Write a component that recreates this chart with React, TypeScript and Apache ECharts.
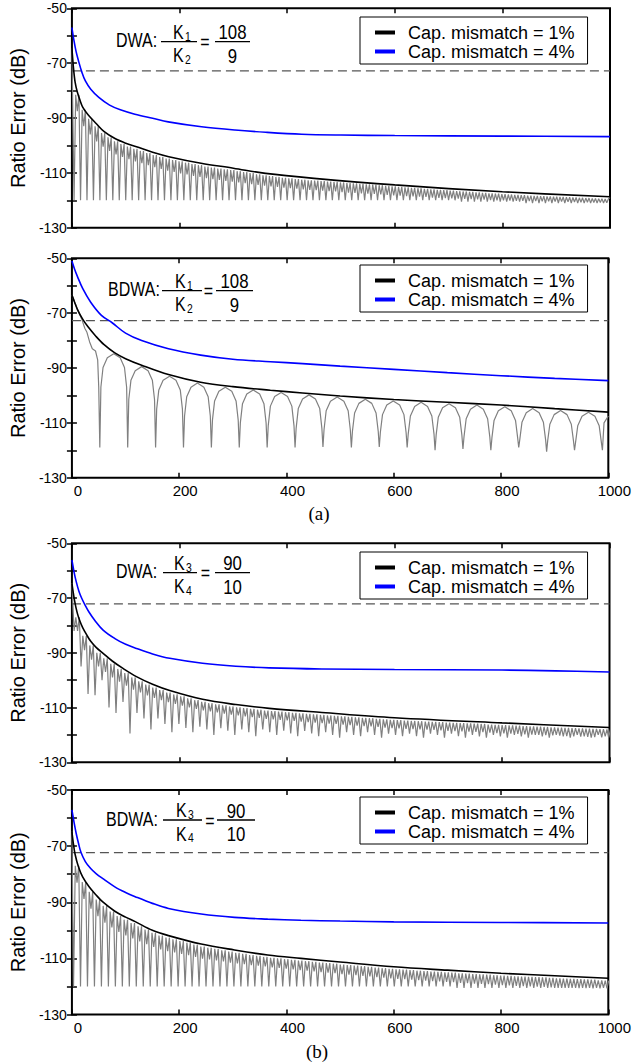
import React, { useEffect, useRef } from "react";
import * as echarts from "echarts";

// ---------- text content ----------
const legendNames = ["Cap. mismatch = 1%", "Cap. mismatch = 4%"];
const xTickLabels = ["0", "200", "400", "600", "800", "1000"];
const yTickLabels = ["-130", "-110", "-90", "-70", "-50"];
const yAxisTitle = "Ratio Error (dB)";
const panelLabels = ["DWA:", "BDWA:", "DWA:", "BDWA:"];
const fracK = "K";
const fracSubs = [["1", "2"], ["1", "2"], ["3", "4"], ["3", "4"]];
const fracNum = ["108", "108", "90", "90"];
const fracDen = ["9", "9", "10", "10"];
const figureLabels = ["(a)", "(b)"];

// ---------- dashed threshold (dB) ----------
const thresholds = [-72.8, -72.7, -72.1, -72.3];

// ---------- Panel 1: DWA K1/K2 = 108/9 ----------
const p1BlackX = [0, 3, 6, 10, 15, 20, 30, 45, 60, 80, 100, 120, 150, 180, 240, 300, 360, 450, 600, 800, 1000];
const p1BlackY = [-64.5, -72, -77, -80.5, -83.5, -86, -88.8, -92, -95, -97.5, -99.2, -100.5, -102.5, -104.1, -106.5, -108.3, -110.2, -112, -114.4, -116.9, -118.7];
const p1BlueX = [0, 4, 8, 12, 18, 25, 35, 50, 70, 90, 117, 150, 179, 241, 303, 360, 427, 500, 600, 800, 1000];
const p1BlueY = [-57, -62, -66, -69, -73, -76.5, -79.5, -82.5, -85.3, -87, -88.6, -90.1, -91.4, -93.2, -94.4, -95.2, -95.9, -96.2, -96.4, -96.6, -96.8];
const p1GrayStart = [[0, -64.5]];
const p1GrayEnd = [[1000, -119]];
const p1SpikeStart = 4;
const p1Period = 12;
const p1GrayTop = [
  -81.5, -87, -90.3, -93, -95.5, -97, -98.5, -99.5, -100.4, -101.2,
  -102, -102.8, -103.5, -104.2, -104.8, -105.3, -105.8, -106.3, -106.8, -107.2,
  -107.7, -108.1, -108.4, -108.7, -109, -109.4, -109.7, -110.1, -110.5, -110.9,
  -111.2, -111.5, -111.8, -112, -112.3, -112.5, -112.7, -112.8, -113, -113.2,
  -113.3, -113.5, -113.7, -113.8, -114, -114.2, -114.3, -114.5, -114.7, -114.9,
  -115.1, -115.3, -115.5, -115.6, -115.8, -116, -116.2, -116.3, -116.5, -116.7,
  -116.8, -116.9, -117.1, -117.3, -117.5, -117.6, -117.8, -117.9, -118, -118.1,
  -118.3, -118.4, -118.5, -118.6, -118.7, -118.8, -118.9, -119, -119.1, -119.2,
  -119.3, -119.4, -119.5,
];
const p1GrayMid = [
  -87.5, -93, -96, -98.5, -100.5, -102, -103.3, -104.2, -105, -105.8,
  -106.5, -107.2, -107.9, -108.6, -109.2, -109.7, -110.2, -110.6, -111.1, -111.5,
  -111.9, -112.3, -112.6, -112.9, -113.2, -113.5, -113.8, -114.1, -114.4, -114.7,
  -114.9, -115.1, -115.4, -115.6, -115.8, -116, -116.2, -116.3, -116.5, -116.7,
  -116.8, -117, -117.2, -117.3, -117.5, -117.6, -117.7, -117.9, -118, -118.2,
  -118.3, -118.5, -118.6, -118.7, -118.8, -119, -119.1, -119.2, -119.3, -119.4,
  -119.5, -119.6, -119.7, -119.8, -119.9, -120, -120, -120.1, -120.2, -120.2,
  -120.3, -120.3, -120.4, -120.4, -120.5, -120.5, -120.6, -120.6, -120.7, -120.7,
  -120.8, -120.8, -120.9,
];
const p1GrayDeep = [
  -120, -120, -120, -120, -120, -120, -120, -120, -120, -120,
  -120, -120, -120, -120, -120, -120, -120, -120, -120, -120,
  -120, -120, -120, -120, -120, -120, -120, -120, -120, -120,
  -120, -120, -120, -120, -120, -120, -120, -120, -120, -120,
  -120, -120, -120, -120, -120, -120, -120, -120, -120, -120,
  -120, -120, -120, -120, -120, -120, -120, -120, -120, -120,
  -120.5, -120.5, -120.5, -120.5, -120.5, -120.5, -120.5, -120.5, -120.5, -120.5,
  -121, -121, -121, -121, -121, -121, -121, -121, -121, -121,
  -121, -121, -121,
];

// ---------- Panel 2: BDWA K1/K2 = 108/9 ----------
const p2BlackX = [0, 5, 10, 20, 30, 45, 60, 80, 100, 130, 180, 240, 300, 370, 430, 500, 600, 700, 800, 900, 1000];
const p2BlackY = [-63.4, -66, -68.5, -72.2, -75, -78.5, -81.5, -84.5, -86.6, -89, -92.4, -95.2, -96.8, -98.1, -99.1, -100.2, -101.5, -102.5, -103.5, -104.8, -106.1];
const p2BlueX = [0, 5, 10, 20, 35, 55, 75, 100, 130, 180, 240, 300, 370, 430, 500, 600, 700, 800, 900, 1000];
const p2BlueY = [-51, -54, -56.5, -61, -66, -70.8, -73.5, -77.3, -80, -83, -85.3, -86.8, -87.7, -88.4, -89.3, -90.5, -91.7, -92.8, -93.8, -94.6];
const p2GrayStart = [[0, -63.4], [6, -66.5], [12, -69.5], [18, -72], [24, -75.5], [28, -77], [33, -80.5], [38, -83], [44, -83.8], [48, -87], [50, -97]];
const p2GrayEnd = [[992, -110], [1000, -107.5]];
const p2DipX = [52, 104, 156, 208, 260, 312, 364, 416, 468, 521, 573, 625, 677, 729, 781, 833, 885, 937, 989];
const p2DipY = [-119, -119, -119, -119, -119, -119, -119, -119, -118.8, -119, -118.8, -119, -120, -119.5, -120, -119, -120.5, -120, -120];
const p2ArchTop = [-84.8, -89.5, -93, -95.5, -97, -98, -98.9, -99.8, -100.6, -101.4, -102, -102.5, -103, -103.5, -104.1, -104.8, -105.5, -106.1];
const p2ArchNear = [-86.3, -91, -94.5, -97, -98.5, -99.5, -100.4, -101.3, -102.1, -102.9, -103.5, -104, -104.5, -105, -105.6, -106.3, -107, -107.6];
const p2ArchSide = [-89.8, -94.5, -98, -100.5, -102, -103, -103.9, -104.8, -105.6, -106.4, -107, -107.5, -108, -108.5, -109.1, -109.8, -110.5, -111.1];
const p2ArchShoulder = [-97, -101.5, -105, -107.5, -109, -110, -111, -112, -112.5, -113, -113.5, -114, -114.5, -115, -115.5, -116, -116.5, -117];

// ---------- Panel 3: DWA K3/K4 = 90/10 ----------
const p3BlackX = [0, 5, 10, 15, 20, 27, 35, 45, 58, 75, 95, 120, 150, 182, 243, 305, 367, 465, 600, 800, 1000];
const p3BlackY = [-64.6, -71, -75.5, -78.5, -80.8, -83.3, -85.8, -88, -90.2, -93, -95.7, -98.7, -101.5, -103.8, -107, -108.9, -110.3, -111.8, -113.7, -115.6, -117.3];
const p3BlueX = [0, 4, 8, 13, 18, 24, 32, 42, 58, 80, 100, 120, 150, 182, 243, 305, 367, 465, 600, 800, 900, 1000];
const p3BlueY = [-56.1, -60.5, -64, -67.5, -70, -72.4, -75.2, -78, -81.7, -84.8, -86.9, -88.4, -90.4, -92, -93.8, -94.9, -95.5, -95.9, -96.1, -96.3, -96.6, -97];
const p3GrayStart = [[0, -64.6]];
const p3GrayEnd: number[][] = [];
const p3SpikeStart = 4;
const p3Period = 13;
const p3GrayTop = [
  -77, -83.8, -87.3, -90, -92, -94, -95.9, -97.4, -99, -100.4,
  -101.6, -102.7, -103.6, -104.5, -105.2, -105.9, -106.6, -107.3, -107.9, -108.4,
  -108.8, -109.2, -109.6, -109.9, -110.2, -110.5, -110.8, -111.1, -111.3, -111.5,
  -111.7, -111.9, -112.1, -112.3, -112.5, -112.7, -112.9, -113, -113.2, -113.4,
  -113.6, -113.8, -113.9, -114.1, -114.3, -114.5, -114.6, -114.8, -114.9, -115,
  -115.1, -115.2, -115.3, -115.5, -115.6, -115.7, -115.8, -115.9, -116, -116.2,
  -116.3, -116.4, -116.5, -116.6, -116.8, -116.9, -117, -117.1, -117.2, -117.3,
  -117.4, -117.5, -117.6, -117.7, -117.8, -117.9, -118,
];
const p3GrayMid = [
  -82, -89, -92.5, -95, -97, -99, -100.5, -102, -103.5, -104.5,
  -105.6, -106.5, -107.3, -108, -108.7, -109.3, -109.9, -110.5, -111, -111.4,
  -111.8, -112.2, -112.6, -112.9, -113.2, -113.5, -113.8, -114.1, -114.3, -114.5,
  -114.7, -114.9, -115.1, -115.3, -115.5, -115.7, -115.9, -116, -116.2, -116.4,
  -116.6, -116.8, -116.9, -117.1, -117.3, -117.5, -117.6, -117.8, -117.9, -118,
  -118.1, -118.2, -118.3, -118.5, -118.6, -118.7, -118.8, -118.9, -119, -119.2,
  -119.3, -119.4, -119.5, -119.6, -119.8, -119.9, -120, -120.1, -120.2, -120.3,
  -120.4, -120.5, -120.6, -120.7, -120.8, -120.9, -121,
];
const p3GrayDeep = [
  -82, -95, -105, -105.5, -100, -110, -112, -108, -119.5, -112,
  -114, -118, -114, -116, -119, -116, -117.5, -119, -117, -118,
  -120, -117.5, -118.5, -120, -118, -119, -120.5, -118, -119, -120,
  -118.5, -119.5, -120.5, -118.5, -119.5, -120.5, -119, -120, -121, -119,
  -120, -120.5, -119, -120, -121, -119.5, -120, -120.5, -119.5, -120.5,
  -121, -119.5, -120, -121, -119.5, -120.5, -121, -120, -120.5, -121,
  -120, -120.5, -121, -120, -120.5, -121, -120, -120.5, -121, -120,
  -120.5, -121, -120, -120.5, -121, -120, -120.5,
];

// ---------- Panel 4: BDWA K3/K4 = 90/10 ----------
const p4BlackX = [0, 3, 6, 12, 20, 32, 45, 57, 80, 100, 118, 150, 180, 241, 303, 365, 427, 500, 600, 700, 800, 900, 1000];
const p4BlackY = [-64.9, -69.5, -73, -77.3, -81, -84.5, -87.4, -89.8, -93.2, -95.3, -96.9, -100, -101.9, -104.9, -107, -108.8, -110, -111.3, -113, -114.2, -115.3, -116.2, -117.1];
const p4BlueX = [0, 4, 8, 12, 17, 25, 35, 45, 57, 80, 100, 118, 150, 180, 241, 303, 365, 427, 500, 600, 800, 1000];
const p4BlueY = [-57.1, -61.5, -65.5, -68.8, -72.3, -75.5, -78, -79.8, -81.5, -84.5, -86.5, -88, -90.4, -92.2, -94.2, -95.4, -96, -96.4, -96.7, -97, -97.2, -97.4];
const p4GrayStart = [[0, -64.9]];
const p4GrayEnd: number[][] = [];
const p4SpikeStart = 3;
const p4Period = 13;
const p4GrayTop = [
  -77, -82.8, -86.3, -89, -91.3, -93.3, -94.9, -96.2, -97.4, -98.6,
  -99.7, -100.9, -101.9, -102.6, -103.2, -103.8, -104.4, -105.1, -105.8, -106.2,
  -106.6, -107.1, -107.6, -108, -108.4, -108.8, -109.1, -109.5, -109.8, -110,
  -110.3, -110.5, -110.8, -111, -111.2, -111.5, -111.7, -111.9, -112.2, -112.4,
  -112.6, -112.8, -113, -113.3, -113.5, -113.7, -113.9, -114, -114.2, -114.4,
  -114.5, -114.7, -114.8, -115, -115.1, -115.3, -115.4, -115.6, -115.7, -115.8,
  -116, -116.1, -116.2, -116.4, -116.5, -116.6, -116.7, -116.8, -116.9, -117.1,
  -117.2, -117.3, -117.4, -117.5, -117.6, -117.8, -117.9,
];
const p4GrayMid = [
  -83, -88.8, -92.3, -95, -97.3, -99, -100.6, -101.8, -102.9, -104,
  -104.9, -105.9, -106.8, -107.4, -107.9, -108.4, -108.9, -109.5, -110.1, -110.4,
  -110.7, -111.1, -111.5, -111.8, -112.1, -112.4, -112.6, -112.9, -113.2, -113.4,
  -113.7, -113.9, -114.2, -114.4, -114.6, -114.9, -115.1, -115.3, -115.6, -115.8,
  -116, -116.2, -116.4, -116.7, -116.9, -117.1, -117.3, -117.4, -117.6, -117.8,
  -117.9, -118.1, -118.2, -118.4, -118.5, -118.7, -118.8, -119, -119.1, -119.2,
  -119.4, -119.5, -119.6, -119.8, -119.9, -120, -120.1, -120.2, -120.3, -120.5,
  -120.5, -120.5, -120.6, -120.6, -120.7, -120.7, -120.7,
];
const p4GrayDeep = [
  -120, -120, -120, -120, -120, -120, -120, -120, -120, -120,
  -120, -120, -120, -120, -120, -120, -120, -120, -120, -120,
  -120, -120, -120, -120, -120, -120, -120, -120, -120, -120,
  -120, -120, -120, -120, -120, -120, -120, -120, -120, -120,
  -120, -120, -120, -120, -120, -120, -120, -120, -120, -120,
  -120, -120, -120, -120, -120, -120.5, -120.5, -120.5, -120.5, -120.5,
  -120.5, -120.5, -120.5, -120.5, -120.5, -120.5, -120.5, -120.5, -120.5, -120.5,
  -120.5, -120.5, -120.5, -120.5, -120.5, -120.5, -120.5,
];

// ---------- layout (positions / styles only) ----------
const SANS = '"Liberation Sans", Arial, Helvetica, sans-serif';
const SERIF = '"Liberation Serif", "Times New Roman", Times, serif';
const CONDENSE = 0.8;

const GRIDS = [
  { left: 70, top: 8.3, width: 540, height: 219.4 },
  { left: 70, top: 258.3, width: 540, height: 219.4 },
  { left: 68.5, top: 543.3, width: 541, height: 219 },
  { left: 69.3, top: 790, width: 540, height: 224.5 },
];
const LEGEND_TOPS = [17, 265, 552, 797];
const ANNOT = [
  { labelX: 116, barY: 41.7, f1: [161, 197], kX: 173, eqX: 205, f2: [215, 250] },
  { labelX: 108, barY: 290.7, f1: [162, 202], kX: 175, eqX: 208.5, f2: [216, 253] },
  { labelX: 116, barY: 572.7, f1: [163, 197], kX: 174, eqX: 205.5, f2: [215, 250] },
  { labelX: 106, barY: 820, f1: [163, 202], kX: 176, eqX: 210, f2: [217, 255] },
];
const FIG_LABEL_POS = [
  { x: 319, y: 513 },
  { x: 317, y: 1051 },
];

function zip(xs: number[], ys: number[]) {
  const n = Math.min(xs.length, ys.length);
  const out: number[][] = [];
  for (let i = 0; i < n; i++) out.push([xs[i], ys[i]]);
  return out;
}

// gray trace: per period a deep spike, a top, a shallow mid dip, a top
function periodicTrace(startPts: number[][], s0: number, period: number, deep: number[], top: number[], mid: number[], endPts: number[][]) {
  const pts: number[][] = startPts.map((p) => p.slice());
  const n = Math.min(deep.length, top.length, mid.length);
  for (let k = 0; k < n; k++) {
    const s = s0 + k * period;
    pts.push([s, deep[k]]);
    pts.push([s + period * 0.25, top[k]]);
    pts.push([s + period * 0.5, mid[k]]);
    pts.push([s + period * 0.75, top[k]]);
  }
  return pts.concat(endPts);
}

// gray trace of arches between deep dips
function archTrace(startPts: number[][], dipX: number[], dipY: number[], top: number[], near: number[], side: number[], shoulder: number[], endPts: number[][]) {
  const pts: number[][] = startPts.map((p) => p.slice());
  for (let i = 0; i < dipX.length; i++) {
    pts.push([dipX[i], dipY[i]]);
    if (i < top.length && i + 1 < dipX.length) {
      const a = dipX[i];
      const b = dipX[i + 1];
      const c = (a + b) / 2;
      pts.push([a + 2, shoulder[i]], [a + 6, side[i]], [a + 14, near[i]], [c, top[i]], [b - 14, near[i]], [b - 6, side[i]], [b - 2, shoulder[i]]);
    }
  }
  return pts.concat(endPts);
}

const PANELS = [
  {
    gray: periodicTrace(p1GrayStart, p1SpikeStart, p1Period, p1GrayDeep, p1GrayTop, p1GrayMid, p1GrayEnd),
    black: zip(p1BlackX, p1BlackY),
    blue: zip(p1BlueX, p1BlueY),
  },
  {
    gray: archTrace(p2GrayStart, p2DipX, p2DipY, p2ArchTop, p2ArchNear, p2ArchSide, p2ArchShoulder, p2GrayEnd),
    black: zip(p2BlackX, p2BlackY),
    blue: zip(p2BlueX, p2BlueY),
  },
  {
    gray: periodicTrace(p3GrayStart, p3SpikeStart, p3Period, p3GrayDeep, p3GrayTop, p3GrayMid, p3GrayEnd),
    black: zip(p3BlackX, p3BlackY),
    blue: zip(p3BlueX, p3BlueY),
  },
  {
    gray: periodicTrace(p4GrayStart, p4SpikeStart, p4Period, p4GrayDeep, p4GrayTop, p4GrayMid, p4GrayEnd),
    black: zip(p4BlackX, p4BlackY),
    blue: zip(p4BlueX, p4BlueY),
  },
];

function txt(text: string, x: number, y: number, size: number, family: string, align: string, sx: number) {
  return {
    type: "text",
    x,
    y,
    scaleX: sx,
    silent: true,
    style: {
      text,
      fontSize: size,
      fontFamily: family,
      fill: "#000",
      align,
      verticalAlign: "middle",
      textAlign: align,
      textVerticalAlign: "middle",
    },
  };
}
function hline(x1: number, x2: number, y: number) {
  return { type: "line", silent: true, shape: { x1, y1: y, x2, y2: y }, style: { stroke: "#000", lineWidth: 1.3 } };
}

function buildOption() {
  const xAxis: any[] = [];
  const yAxis: any[] = [];
  const series: any[] = [];
  const legend: any[] = [];
  const elements: any[] = [];
  const tickStyle = { color: "#000", width: 1.5 };

  GRIDS.forEach((g, i) => {
    const showX = i === 1 || i === 3;
    xAxis.push({
      type: "value", gridIndex: i, min: 0, max: 1000, interval: 200, position: "bottom",
      axisLine: { show: false }, splitLine: { show: false },
      axisTick: { show: true, inside: true, length: 5, lineStyle: tickStyle },
      axisLabel: {
        show: showX, color: "#000", fontFamily: SANS, fontSize: 15, margin: 5, padding: [0, 0, 0, 12],
        formatter: (v: number) => (xTickLabels.indexOf(String(v)) >= 0 ? String(v) : ""),
      },
    });
    xAxis.push({
      type: "value", gridIndex: i, min: 0, max: 1000, interval: 200, position: "top",
      axisLine: { show: false }, splitLine: { show: false },
      axisTick: { show: true, inside: true, length: 5, lineStyle: tickStyle },
      axisLabel: { show: false },
    });
    yAxis.push({
      type: "value", gridIndex: i, min: -130, max: -50, interval: 10, position: "left",
      axisLine: { show: false }, splitLine: { show: false },
      axisTick: { show: true, inside: true, length: 5, lineStyle: tickStyle },
      axisLabel: {
        color: "#000", fontFamily: SANS, fontSize: 14, margin: 5,
        formatter: (v: number) => (yTickLabels.indexOf(String(v)) >= 0 ? String(v) : ""),
      },
      name: yAxisTitle, nameLocation: "middle", nameGap: 36,
      nameTextStyle: { color: "#000", fontFamily: SANS, fontSize: 20 },
    });
    yAxis.push({
      type: "value", gridIndex: i, min: -130, max: -50, interval: 10, position: "right",
      axisLine: { show: false }, splitLine: { show: false },
      axisTick: { show: true, inside: true, length: 5, lineStyle: tickStyle },
      axisLabel: { show: false },
    });

    const p = PANELS[i];
    const base = { type: "line", xAxisIndex: 2 * i, yAxisIndex: 2 * i, symbol: "none", showSymbol: false, silent: true, animation: false };
    series.push({ ...base, name: "trace" + i, data: p.gray, z: 2, lineStyle: { color: "#808080", width: 1.2 }, itemStyle: { color: "#808080" } });
    series.push({ ...base, name: "threshold" + i, data: [[0, thresholds[i]], [1000, thresholds[i]]], z: 3, lineStyle: { color: "#555", width: 1.2, type: [9, 5] }, itemStyle: { color: "#555" } });
    series.push({ ...base, name: legendNames[0], data: p.black, smooth: 0.35, z: 4, lineStyle: { color: "#000", width: 1.6 }, itemStyle: { color: "#000" } });
    series.push({ ...base, name: legendNames[1], data: p.blue, smooth: 0.35, z: 4, lineStyle: { color: "#0000ff", width: 1.6 }, itemStyle: { color: "#0000ff" } });

    legend.push({
      show: true, orient: "vertical", left: 360, top: LEGEND_TOPS[i], data: legendNames.slice(),
      icon: "rect", itemWidth: 20, itemHeight: 4, itemGap: 0, selectedMode: false,
      padding: [6, 13, 3, 15], borderColor: "#000", borderWidth: 1, borderRadius: 0, backgroundColor: "#fff",
      textStyle: { color: "#000", fontFamily: SANS, fontSize: 18, lineHeight: 19, padding: [0, 0, 0, 8] },
    });

    const a = ANNOT[i];
    elements.push(txt(panelLabels[i], a.labelX, a.barY - 1, 20, SANS, "left", CONDENSE));
    elements.push(hline(a.f1[0], a.f1[1], a.barY));
    elements.push(txt(fracK, a.kX, a.barY - 9.5, 20, SANS, "left", CONDENSE));
    elements.push(txt(fracSubs[i][0], a.kX + 12, a.barY - 6, 13, SANS, "left", CONDENSE));
    elements.push(txt(fracK, a.kX, a.barY + 14, 20, SANS, "left", CONDENSE));
    elements.push(txt(fracSubs[i][1], a.kX + 12, a.barY + 17.5, 13, SANS, "left", CONDENSE));
    elements.push(txt("=", a.eqX, a.barY + 1, 20, SANS, "center", CONDENSE));
    elements.push(hline(a.f2[0], a.f2[1], a.barY));
    const cx = (a.f2[0] + a.f2[1]) / 2;
    elements.push(txt(fracNum[i], cx, a.barY - 9.5, 21, SANS, "center", CONDENSE));
    elements.push(txt(fracDen[i], cx, a.barY + 14, 21, SANS, "center", CONDENSE));
  });

  FIG_LABEL_POS.forEach((pos, i) => {
    elements.push(txt(figureLabels[i], pos.x, pos.y, 19, SERIF, "center", 1));
  });

  return {
    animation: false,
    backgroundColor: "#fff",
    grid: GRIDS.map((g) => ({ ...g, show: true, borderColor: "#000", borderWidth: 2, backgroundColor: "transparent", containLabel: false })),
    xAxis,
    yAxis,
    series,
    legend,
    graphic: { elements },
  };
}

export default function App() {
  const ref = useRef<HTMLDivElement>(null);
  useEffect(() => {
    if (!ref.current) return;
    const chart = echarts.init(ref.current, null, { renderer: "svg" });
    chart.setOption(buildOption() as any);
    return () => chart.dispose();
  }, []);
  return (
    <div
      ref={ref}
      style={{ position: "absolute", left: 0, top: 0, width: 634, height: 1063, background: "#fff" }}
    />
  );
}
